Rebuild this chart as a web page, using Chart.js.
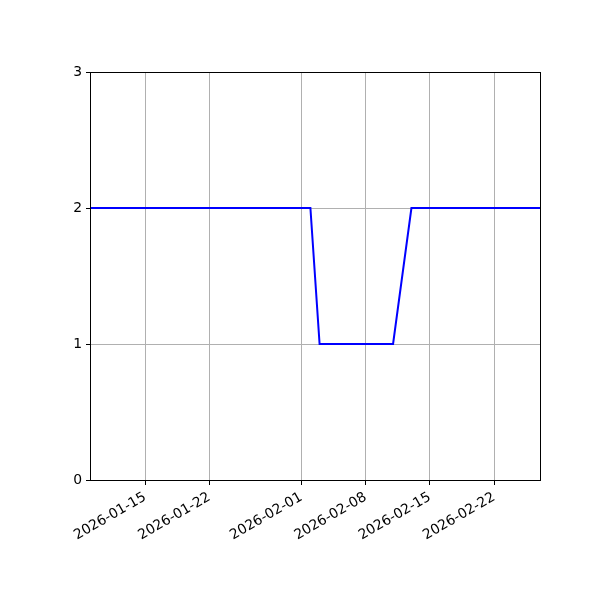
<!DOCTYPE html>
<html>
<head>
<meta charset="utf-8">
<script src="https://cdn.jsdelivr.net/npm/chart.js@4.4.1/dist/chart.umd.min.js"></script>
<style>
  html, body { margin: 0; padding: 0; background: #fff; }
  #wrap { width: 600px; height: 600px; }
</style>
</head>
<body>
<div id="wrap"><canvas id="chart" width="600" height="600"></canvas></div>
<script>
// data (value changes only)
const dates = ['2026-01-09', '2026-02-02', '2026-02-03', '2026-02-11', '2026-02-13', '2026-02-27'];
const values = [2, 2, 1, 1, 2, 2];
const tickDates = ['2026-01-15', '2026-01-22', '2026-02-01', '2026-02-08', '2026-02-15', '2026-02-22'];
const yTicks = [0, 1, 2, 3];
const xMin = '2026-01-09';
const xMax = '2026-02-27';

function toMs(s) {
    const p = s.split('-').map(Number);
    return Date.UTC(p[0], p[1] - 1, p[2]);
}
function fmt(ms) {
    const d = new Date(ms);
    const mm = String(d.getUTCMonth() + 1).padStart(2, '0');
    const dd = String(d.getUTCDate()).padStart(2, '0');
    return d.getUTCFullYear() + '-' + mm + '-' + dd;
}

// full box around the plot, like matplotlib spines
const frame = {
    id: 'frame',
    afterDraw(chart) {
        const a = chart.chartArea;
        const ctx = chart.ctx;
        ctx.save();
        ctx.strokeStyle = '#000';
        ctx.lineWidth = 1;
        ctx.strokeRect(a.left + 0.5, a.top + 0.5, a.right - a.left, a.bottom - a.top);
        ctx.restore();
    }
};

Chart.defaults.font.family = 'DejaVu Sans';
Chart.defaults.font.size = 13.9;
Chart.defaults.color = '#000';

const ctx = document.getElementById('chart').getContext('2d');
new Chart(ctx, {
    type: 'line',
    data: {
        datasets: [{
            data: dates.map((d, i) => ({ x: toMs(d), y: values[i] })),
            borderColor: '#0000ff',
            borderWidth: 2,
            pointRadius: 0,
            tension: 0,
            fill: false
        }]
    },
    options: {
        responsive: false,
        animation: false,
        layout: { padding: { top: 72, right: 60, left: 0, bottom: 0 } },
        plugins: { legend: { display: false }, tooltip: { enabled: false } },
        scales: {
            x: {
                type: 'linear',
                min: toMs(xMin),
                max: toMs(xMax),
                afterBuildTicks: axis => { axis.ticks = tickDates.map(d => ({ value: toMs(d) })); },
                afterFit: axis => { axis.height = 120; },
                ticks: {
                    callback: v => fmt(v),
                    minRotation: 30,
                    maxRotation: 30,
                    autoSkip: false,
                    padding: 4
                },
                grid: { color: '#b0b0b0', lineWidth: 1, tickColor: '#000', tickLength: 5 },
                border: { display: false }
            },
            y: {
                min: 0,
                max: 3,
                afterBuildTicks: axis => { axis.ticks = yTicks.map(v => ({ value: v })); },
                afterFit: axis => { axis.width = 90; },
                ticks: { padding: 4 },
                grid: { color: '#b0b0b0', lineWidth: 1, tickColor: '#000', tickLength: 4 },
                border: { display: false }
            }
        }
    },
    plugins: [frame]
});
</script>
</body>
</html>
